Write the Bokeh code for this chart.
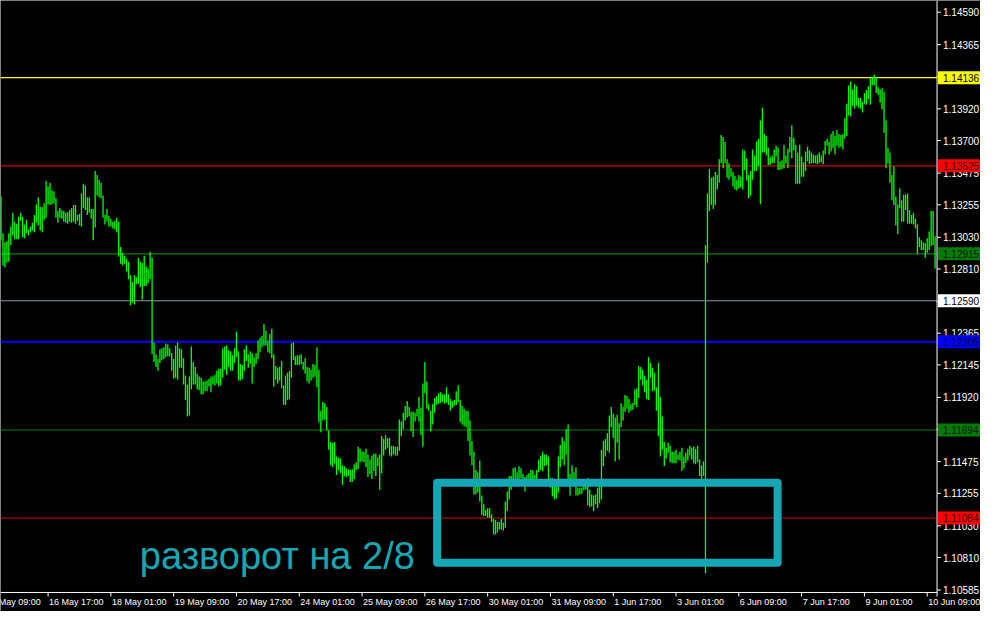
from bokeh.plotting import figure
from bokeh.models import Range1d
from bokeh.embed import file_html
from bokeh.resources import INLINE
from bokeh.core.properties import value

# ---------------- data (H1 bars, index = hourly bar number) ----------------
highs = [
1.13313, 1.13057, 1.12996, 1.13003, 1.13057, 1.13104, 1.13199, 1.13138, 1.13124, 1.13172,
1.13199, 1.13172, 1.13118, 1.13151, 1.13084, 1.13104, 1.13131, 1.13185, 1.13259, 1.13307,
1.13239, 1.13239, 1.13266, 1.13422, 1.13381, 1.13408, 1.13354, 1.13347, 1.13300, 1.13212,
1.13232, 1.13219, 1.13212, 1.13199, 1.13205, 1.13219, 1.13232, 1.13253, 1.13253, 1.13185,
1.13192, 1.13334, 1.13401, 1.13388, 1.13307, 1.13307, 1.13226, 1.13226, 1.13489, 1.13462,
1.13428, 1.13408, 1.13320, 1.13185, 1.13226, 1.13178, 1.13158, 1.13138, 1.13145, 1.13165,
1.13138, 1.12962, 1.12922, 1.12902, 1.12881, 1.12861, 1.12766, 1.12719, 1.12766, 1.12753,
1.12888, 1.12861, 1.12854, 1.12902, 1.12827, 1.12814, 1.12929, 1.12888, 1.12300, 1.12219,
1.12186, 1.12253, 1.12260, 1.12267, 1.12294, 1.12287, 1.12260, 1.12226, 1.12186, 1.12280,
1.12300, 1.12260, 1.12253, 1.12192, 1.12071, 1.12010, 1.12064, 1.12273, 1.12165, 1.12131,
1.12084, 1.12064, 1.12057, 1.12030, 1.12030, 1.12037, 1.12050, 1.12064, 1.12064, 1.12077,
1.12104, 1.12118, 1.12118, 1.12260, 1.12273, 1.12280, 1.12246, 1.12240, 1.12213, 1.12260,
1.12375, 1.12240, 1.12152, 1.12145, 1.12253, 1.12280, 1.12219, 1.12240, 1.12226, 1.12199,
1.12226, 1.12314, 1.12334, 1.12348, 1.12429, 1.12382, 1.12314, 1.12361, 1.12395, 1.12219,
1.12138, 1.12125, 1.12131, 1.12172, 1.12003, 1.12071, 1.12091, 1.12104, 1.12294, 1.12300,
1.12206, 1.12213, 1.12213, 1.12219, 1.12165, 1.12192, 1.12131, 1.12125, 1.12111, 1.12152,
1.12145, 1.12267, 1.12111, 1.11827, 1.11888, 1.11882, 1.11854, 1.11692, 1.11611, 1.11605,
1.11611, 1.11510, 1.11503, 1.11497, 1.11449, 1.11443, 1.11429, 1.11422, 1.11416, 1.11422,
1.11456, 1.11470, 1.11578, 1.11564, 1.11544, 1.11544, 1.11564, 1.11524, 1.11490, 1.11517,
1.11530, 1.11530, 1.11503, 1.11524, 1.11652, 1.11632, 1.11659, 1.11638, 1.11638, 1.11584,
1.11584, 1.11578, 1.11578, 1.11767, 1.11753, 1.11814, 1.11861, 1.11895, 1.11854, 1.11821,
1.11821, 1.11814, 1.11841, 1.11922, 1.11848, 1.12017, 1.12165, 1.12030, 1.11875, 1.11827,
1.11875, 1.11915, 1.11929, 1.11949, 1.11956, 1.11942, 1.11942, 1.11990, 1.11942, 1.11909,
1.11895, 1.11902, 1.11963, 1.12003, 1.11902, 1.11861, 1.11841, 1.11827, 1.11827, 1.11760,
1.11618, 1.11544, 1.11416, 1.11402, 1.11483, 1.11240, 1.11179, 1.11139, 1.11152, 1.11152,
1.11111, 1.11078, 1.11071, 1.11057, 1.11057, 1.11078, 1.11051, 1.11199, 1.11267, 1.11375,
1.11375, 1.11429, 1.11436, 1.11402, 1.11443, 1.11429, 1.11389, 1.11368, 1.11382, 1.11395,
1.11416, 1.11416, 1.11382, 1.11416, 1.11490, 1.11517, 1.11544, 1.11524, 1.11524, 1.11510,
1.11361, 1.11361, 1.11355, 1.11348, 1.11510, 1.11591, 1.11645, 1.11618, 1.11699, 1.11733,
1.11389, 1.11449, 1.11402, 1.11436, 1.11294, 1.11294, 1.11294, 1.11307, 1.11321, 1.11361,
1.11280, 1.11247, 1.11240, 1.11247, 1.11294, 1.11355, 1.11557, 1.11618, 1.11632, 1.11672,
1.11794, 1.11854, 1.11807, 1.11780, 1.11800, 1.11740, 1.11882, 1.11854, 1.11936, 1.11929,
1.11909, 1.11875, 1.11882, 1.11976, 1.11983, 1.12138, 1.12131, 1.12111, 1.12071, 1.12043,
1.12199, 1.12158, 1.12125, 1.12091, 1.11990, 1.12158, 1.11922, 1.11787, 1.11611, 1.11571,
1.11605, 1.11584, 1.11544, 1.11544, 1.11557, 1.11524, 1.11544, 1.11571, 1.11510, 1.11537,
1.11564, 1.11584, 1.11571, 1.11578, 1.11564, 1.11584, 1.11490, 1.11449, 1.11476, 1.12976,
1.13334, 1.13503, 1.13442, 1.13449, 1.13482, 1.13462, 1.13570, 1.13739, 1.13725, 1.13692,
1.13570, 1.13543, 1.13509, 1.13482, 1.13455, 1.13428, 1.13462, 1.13449, 1.13638, 1.13631,
1.13577, 1.13462, 1.13489, 1.13638, 1.13597, 1.13692, 1.13712, 1.13840, 1.13928, 1.13746,
1.13732, 1.13651, 1.13584, 1.13597, 1.13638, 1.13665, 1.13651, 1.13557, 1.13563, 1.13671,
1.13597, 1.13644, 1.13725, 1.13806, 1.13719, 1.13671, 1.13617, 1.13671, 1.13590, 1.13550,
1.13624, 1.13658, 1.13631, 1.13617, 1.13604, 1.13597, 1.13604, 1.13617, 1.13597, 1.13631,
1.13698, 1.13712, 1.13692, 1.13746, 1.13766, 1.13732, 1.13773, 1.13746, 1.13739, 1.13746,
1.13854, 1.13955, 1.14084, 1.14110, 1.14056, 1.14090, 1.14077, 1.13996, 1.13996, 1.13969,
1.14029, 1.14050, 1.14077, 1.14137, 1.14137, 1.14158, 1.14137, 1.14070, 1.14056, 1.14063,
1.14036, 1.13840, 1.13651, 1.13617, 1.13462, 1.13523, 1.13313, 1.13259, 1.13368, 1.13286,
1.13327, 1.13327, 1.13334, 1.13219, 1.13185, 1.13199, 1.13158, 1.13118, 1.13030, 1.13010,
1.12996, 1.12989, 1.13023, 1.13070, 1.13212, 1.13212, 1.13037,
]

lows = [
1.13010, 1.12834, 1.12820, 1.12854, 1.12861, 1.12976, 1.13043, 1.13016, 1.13016, 1.13016,
1.13145, 1.13030, 1.13023, 1.13057, 1.13043, 1.13064, 1.13077, 1.13064, 1.13131, 1.13111,
1.13077, 1.13064, 1.13151, 1.13165, 1.13259, 1.13253, 1.13259, 1.13266, 1.13165, 1.13131,
1.13165, 1.13158, 1.13138, 1.13131, 1.13124, 1.13138, 1.13131, 1.13138, 1.13124, 1.13145,
1.13111, 1.13104, 1.13232, 1.13219, 1.13185, 1.13199, 1.13158, 1.13010, 1.13097, 1.13320,
1.13307, 1.13300, 1.13165, 1.13118, 1.13138, 1.13104, 1.13104, 1.13091, 1.13084, 1.13064,
1.12895, 1.12847, 1.12834, 1.12847, 1.12793, 1.12739, 1.12557, 1.12577, 1.12564, 1.12706,
1.12706, 1.12685, 1.12598, 1.12692, 1.12692, 1.12712, 1.12739, 1.12219, 1.12165, 1.12131,
1.12104, 1.12158, 1.12179, 1.12186, 1.12199, 1.12206, 1.12206, 1.12104, 1.12050, 1.12057,
1.12043, 1.12125, 1.12125, 1.12010, 1.11902, 1.11787, 1.11794, 1.11976, 1.12010, 1.12010,
1.11976, 1.11969, 1.11942, 1.11942, 1.11963, 1.11963, 1.11996, 1.11956, 1.12010, 1.12003,
1.12017, 1.11996, 1.12003, 1.12057, 1.12111, 1.12077, 1.12131, 1.12104, 1.12104, 1.12158,
1.12199, 1.12037, 1.12037, 1.12050, 1.12104, 1.12172, 1.12125, 1.12152, 1.12017, 1.12131,
1.12152, 1.12186, 1.12233, 1.12267, 1.12280, 1.12280, 1.12233, 1.12226, 1.12192, 1.11996,
1.12043, 1.12017, 1.12037, 1.11983, 1.11868, 1.11868, 1.11902, 1.11909, 1.12057, 1.12179,
1.12145, 1.12145, 1.12145, 1.12152, 1.12111, 1.12084, 1.12030, 1.12017, 1.12037, 1.12057,
1.12064, 1.11990, 1.11747, 1.11679, 1.11760, 1.11767, 1.11692, 1.11557, 1.11449, 1.11436,
1.11463, 1.11382, 1.11416, 1.11395, 1.11314, 1.11375, 1.11368, 1.11375, 1.11334, 1.11334,
1.11355, 1.11416, 1.11422, 1.11470, 1.11476, 1.11470, 1.11436, 1.11368, 1.11389, 1.11355,
1.11409, 1.11375, 1.11443, 1.11280, 1.11395, 1.11517, 1.11557, 1.11571, 1.11517, 1.11510,
1.11524, 1.11517, 1.11517, 1.11551, 1.11652, 1.11699, 1.11760, 1.11780, 1.11787, 1.11686,
1.11645, 1.11753, 1.11787, 1.11753, 1.11659, 1.11578, 1.11949, 1.11841, 1.11827, 1.11686,
1.11733, 1.11814, 1.11868, 1.11875, 1.11882, 1.11888, 1.11875, 1.11882, 1.11868, 1.11827,
1.11848, 1.11861, 1.11868, 1.11888, 1.11747, 1.11733, 1.11720, 1.11713, 1.11618, 1.11517,
1.11449, 1.11247, 1.11247, 1.11260, 1.11199, 1.11105, 1.11098, 1.11098, 1.11085, 1.11085,
1.11057, 1.10970, 1.10970, 1.10983, 1.11004, 1.11004, 1.10997, 1.11017, 1.11132, 1.11213,
1.11280, 1.11348, 1.11348, 1.11348, 1.11348, 1.11361, 1.11348, 1.11267, 1.11348, 1.11348,
1.11348, 1.11355, 1.11348, 1.11348, 1.11402, 1.11416, 1.11409, 1.11443, 1.11449, 1.11348,
1.11294, 1.11233, 1.11213, 1.11220, 1.11260, 1.11436, 1.11490, 1.11449, 1.11524, 1.11348,
1.11240, 1.11348, 1.11348, 1.11240, 1.11240, 1.11247, 1.11253, 1.11274, 1.11280, 1.11172,
1.11159, 1.11166, 1.11132, 1.11179, 1.11152, 1.11186, 1.11213, 1.11443, 1.11510, 1.11551,
1.11537, 1.11713, 1.11638, 1.11476, 1.11605, 1.11490, 1.11713, 1.11760, 1.11821, 1.11841,
1.11814, 1.11827, 1.11834, 1.11868, 1.11854, 1.11915, 1.12043, 1.12003, 1.11956, 1.11909,
1.11902, 1.12057, 1.11963, 1.11969, 1.11827, 1.11652, 1.11510, 1.11557, 1.11443, 1.11497,
1.11537, 1.11470, 1.11463, 1.11463, 1.11463, 1.11490, 1.11483, 1.11409, 1.11429, 1.11463,
1.11483, 1.11517, 1.11490, 1.11463, 1.11456, 1.11470, 1.11375, 1.11355, 1.11375, 1.10700,
1.12854, 1.13212, 1.13253, 1.13226, 1.13253, 1.13361, 1.13408, 1.13543, 1.13509, 1.13543,
1.13442, 1.13428, 1.13449, 1.13381, 1.13361, 1.13354, 1.13368, 1.13374, 1.13361, 1.13496,
1.13422, 1.13300, 1.13320, 1.13428, 1.13489, 1.13489, 1.13523, 1.13259, 1.13617, 1.13617,
1.13597, 1.13530, 1.13530, 1.13543, 1.13543, 1.13590, 1.13496, 1.13496, 1.13503, 1.13509,
1.13543, 1.13509, 1.13617, 1.13577, 1.13631, 1.13401, 1.13401, 1.13401, 1.13449, 1.13449,
1.13489, 1.13557, 1.13536, 1.13543, 1.13543, 1.13543, 1.13536, 1.13543, 1.13550, 1.13536,
1.13604, 1.13665, 1.13604, 1.13624, 1.13651, 1.13604, 1.13665, 1.13651, 1.13658, 1.13638,
1.13712, 1.13732, 1.13874, 1.13867, 1.13942, 1.13921, 1.13942, 1.13928, 1.13921, 1.13894,
1.13955, 1.13948, 1.13989, 1.13948, 1.14084, 1.14084, 1.14029, 1.14016, 1.13962, 1.13915,
1.13753, 1.13509, 1.13543, 1.13408, 1.13286, 1.13253, 1.13111, 1.13050, 1.13232, 1.13138,
1.13138, 1.13219, 1.13124, 1.13124, 1.13124, 1.13118, 1.13091, 1.12915, 1.12962, 1.12942,
1.12942, 1.12888, 1.12922, 1.12942, 1.12969, 1.12976, 1.12814,
]

bars = list(range(len(highs)))

# time axis: bar index of each labelled hour
tick_bars = [-8, 24, 56, 88, 120, 152, 184, 216, 248, 280, 312, 344, 376, 408, 440, 472]
tick_labels = ["15 May 09:00", "16 May 17:00", "18 May 01:00", "19 May 09:00",
               "20 May 17:00", "24 May 01:00", "25 May 09:00", "26 May 17:00",
               "30 May 01:00", "31 May 09:00", "1 Jun 17:00", "3 Jun 01:00",
               "6 Jun 09:00", "7 Jun 17:00", "9 Jun 01:00", "10 Jun 09:00"]

price_ticks = [1.14590, 1.14365, 1.14145, 1.13920, 1.13700, 1.13475, 1.13255, 1.13030,
               1.12810, 1.12585, 1.12365, 1.12145, 1.11920, 1.11700, 1.11475, 1.11255,
               1.11030, 1.10810, 1.10585]

levels = [1.14136, 1.13525, 1.12915, 1.12590, 1.12305, 1.11694, 1.11084]
level_line_colors = ["#ffff00", "#d40000", "#008000", "#8c9aa8", "#0000ff", "#008000", "#d40000"]
level_line_widths = [1.2, 1.2, 1.2, 1.2, 2, 1.2, 1.2]
level_box_colors = ["#ffff00", "#ff0000", "#067a06", "#ffffff", "#0000ff", "#067a06", "#ff0000"]
level_text_colors = ["#000000", "#3a0000", "#001a00", "#000000", "#00003a", "#001a00", "#3a0000"]

note_text = ["разворот на 2/8"]
note_color = "#14a8b6"

# ---------------- layout constants ----------------
FONT = value("Liberation Sans")
X_MIN, X_MAX = -0.25, 499.15      # bars span the chart, price scale strip to the right
AXIS_X = 477.0                     # price-scale axis line (just after the last bar)
Y_MIN, Y_MAX = 1.10436, 1.14671    # time-scale strip below the chart
AXIS_Y = 1.10568                   # time-scale axis line
TIME_LABEL_Y = 1.10504
TICK_LEN_Y = 0.00028
TICK_LEN_X = 2.0

p = figure(width=980, height=611, output_backend="svg", toolbar_location=None,
           x_range=Range1d(X_MIN, X_MAX), y_range=Range1d(Y_MIN, Y_MAX),
           x_axis_location=None, y_axis_location=None,
           background_fill_color="#000000", border_fill_color="#000000",
           min_border=0)
p.grid.visible = False
p.outline_line_color = None

# level lines (stop at the price scale)
p.segment(x0=[X_MIN] * len(levels), x1=[AXIS_X] * len(levels), y0=levels, y1=levels,
          line_color=level_line_colors, line_width=level_line_widths)

# bars
p.segment(x0=bars, y0=lows, x1=bars, y1=highs, line_color="#00ff00", line_width=1.3)

# highlighted zone + note
p.quad(left=[222.25], right=[395.75], bottom=[1.10774], top=[1.11328],
       fill_color=None, line_color=note_color, line_width=8, line_join="round")
p.text(x=[70.75], y=[1.10821], text=note_text, text_color=note_color,
       text_font=FONT, text_font_size="38px", text_baseline="alphabetic", text_align="left")

# axis lines
p.segment(x0=[X_MIN, AXIS_X], y0=[AXIS_Y, Y_MAX], x1=[AXIS_X, AXIS_X], y1=[AXIS_Y, AXIS_Y - TICK_LEN_Y],
          line_color="#ffffff", line_width=1)

# price scale ticks and labels
p.segment(x0=[AXIS_X] * len(price_ticks), x1=[AXIS_X + TICK_LEN_X] * len(price_ticks),
          y0=price_ticks, y1=price_ticks, line_color="#ffffff", line_width=1)
p.text(x=[AXIS_X] * len(price_ticks), y=price_ticks, text=[f"{t:.5f}" for t in price_ticks],
       x_offset=6, text_baseline="middle", text_align="left", text_color="#ffffff",
       text_font=FONT, text_font_size="10px")

# price boxes for the levels
p.rect(x=[(AXIS_X + 0.5 + X_MAX) / 2] * len(levels), y=levels, width=X_MAX - AXIS_X - 0.5,
       height=13, height_units="screen", fill_color=level_box_colors, line_color=None)
p.text(x=[AXIS_X] * len(levels), y=levels, text=[f"{lv:.5f}" for lv in levels],
       x_offset=6, text_baseline="middle", text_align="left", text_color=level_text_colors,
       text_font=FONT, text_font_size="10px")

# time scale ticks and labels
p.segment(x0=tick_bars, x1=tick_bars, y0=[AXIS_Y] * len(tick_bars),
          y1=[AXIS_Y - TICK_LEN_Y] * len(tick_bars), line_color="#ffffff", line_width=1)
p.text(x=tick_bars, y=[TIME_LABEL_Y] * len(tick_bars), text=tick_labels,
       x_offset=1, text_baseline="middle", text_align="left", text_color="#ffffff",
       text_font=FONT, text_font_size="9px")

open("out.html", "w").write(file_html(p, INLINE))
